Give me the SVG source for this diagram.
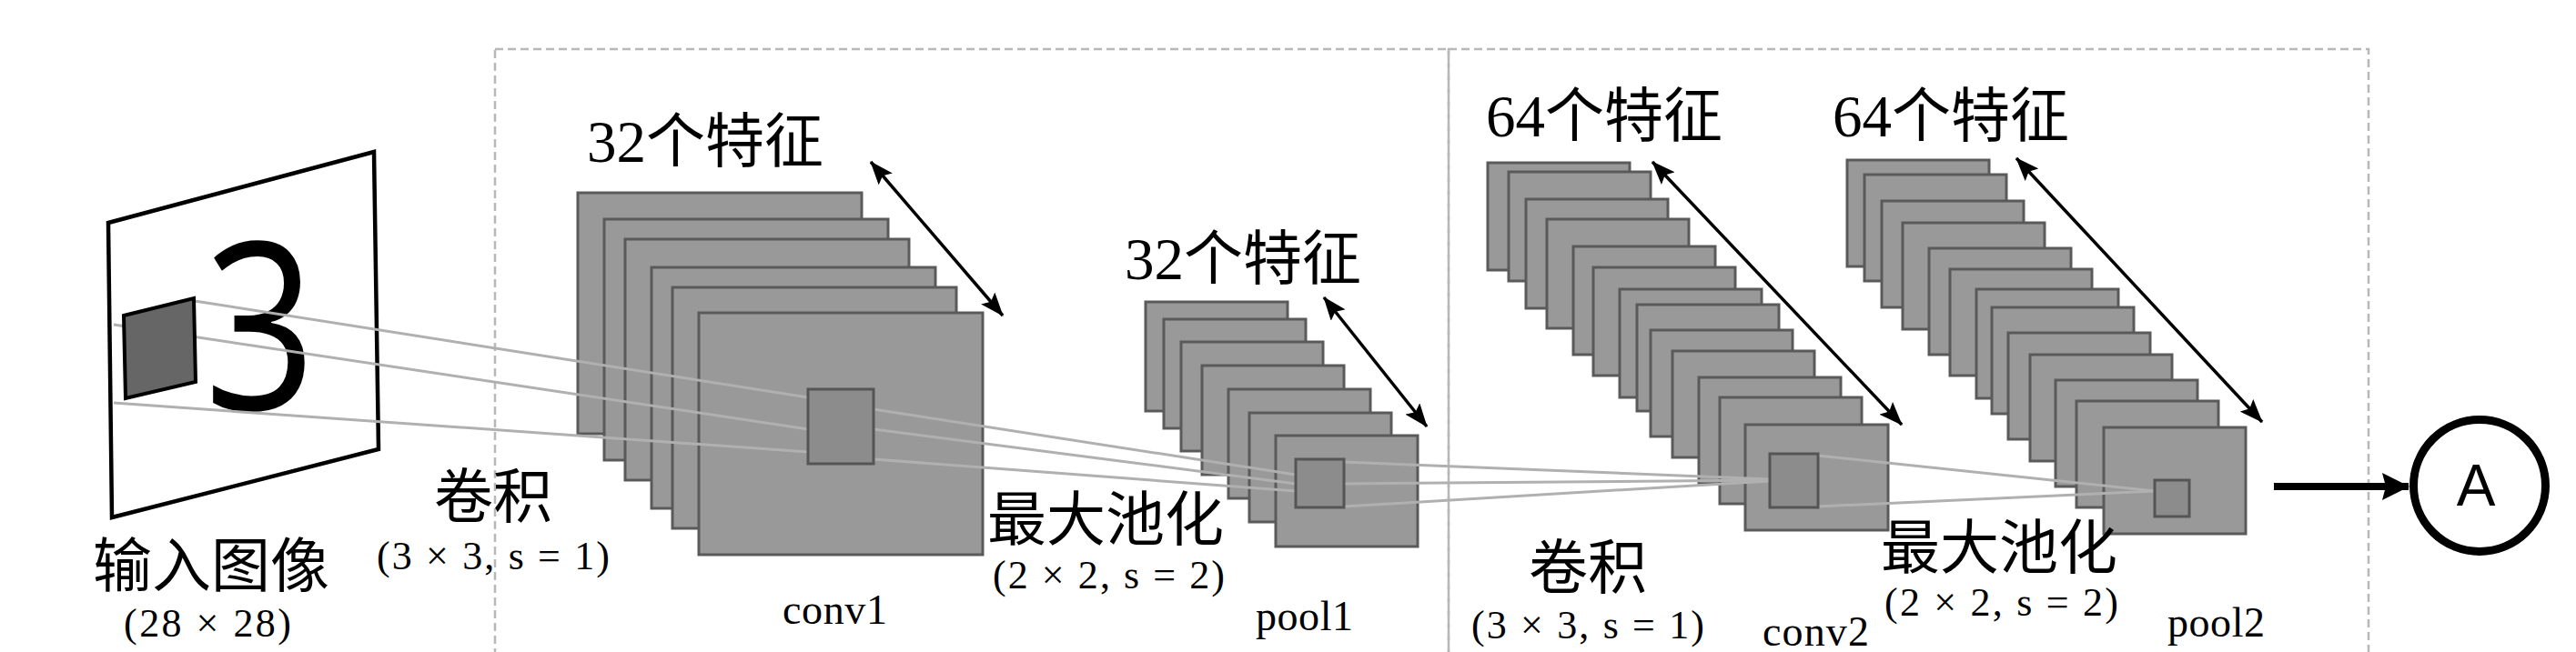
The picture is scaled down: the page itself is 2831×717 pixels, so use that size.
<svg xmlns="http://www.w3.org/2000/svg" width="2831" height="717" viewBox="0 0 2831 717">
<style>
.box{fill:none;stroke:#b8b8b8;stroke-width:2.5;stroke-dasharray:9 5}
.fm{fill:#999999;stroke:#5a5a5a;stroke-width:3}
.patch{fill:#8c8c8c;stroke:#555555;stroke-width:3}
.ln{stroke:#b0b0b0;stroke-width:3;fill:none}
.dbl{stroke:#000;stroke-width:3.5;fill:none;marker-start:url(#ah);marker-end:url(#ah)}
.cjk{font-family:"Liberation Serif","Noto Sans CJK SC",serif;font-size:65px;fill:#000}
.par{font-family:"Liberation Serif","Noto Sans CJK SC",serif;font-size:44px;fill:#000}
.nm{font-family:"Liberation Serif",serif;font-size:46px;fill:#000}
</style>
<defs>
<marker id="ah" viewBox="0 0 26 20" refX="25" refY="10" markerWidth="26" markerHeight="20" markerUnits="userSpaceOnUse" orient="auto-start-reverse">
<path d="M0,0 L26,10 L0,20 L5,10 z" fill="#000"/>
</marker>
<marker id="big" viewBox="0 0 30 30" refX="29" refY="15" markerWidth="30" markerHeight="30" markerUnits="userSpaceOnUse" orient="auto">
<path d="M0,0 L30,15 L0,30 L4,15 z" fill="#000"/>
</marker>
</defs>
<rect width="2831" height="717" fill="#fff"/>
<g id="stages">
<rect class="box" x="544" y="54" width="1048" height="700"/>
<rect class="box" x="1592" y="54" width="1011" height="700"/>
</g>
<g id="input">
<polygon points="119,245 411,167 416,494 123,569" fill="#fff" stroke="#000" stroke-width="4.5"/>
<text transform="translate(286,450) scale(0.84,1)" text-anchor="middle" font-family="Open Sans, DejaVu Sans, sans-serif" font-weight="400" font-size="256" fill="#000">3</text>
<text class="cjk" x="102" y="645">输入图像</text>
<text class="par" x="136" y="700" textLength="184" lengthAdjust="spacing">(28 × 28)</text>
</g>
<g id="conv1">
<rect class="fm" x="635" y="212" width="312" height="265"/>
<rect class="fm" x="664" y="241" width="312" height="265"/>
<rect class="fm" x="687" y="263" width="312" height="265"/>
<rect class="fm" x="716" y="294" width="312" height="265"/>
<rect class="fm" x="739" y="316" width="312" height="265"/>
<rect class="fm" x="768" y="344" width="312" height="266"/>
<line class="dbl" x1="957" y1="178" x2="1102" y2="347"/>
<text class="cjk" x="645" y="178">32个特征</text>
<text class="cjk" x="477" y="569">卷积</text>
<text class="par" x="414" y="626" textLength="256" lengthAdjust="spacing">(3 × 3, s = 1)</text>
<text class="nm" x="860" y="686" textLength="115" lengthAdjust="spacing">conv1</text>
</g>
<g id="pool1">
<rect class="fm" x="1259" y="332" width="156" height="120"/>
<rect class="fm" x="1279" y="351" width="156" height="120"/>
<rect class="fm" x="1298" y="376" width="156" height="120"/>
<rect class="fm" x="1321" y="402" width="156" height="120"/>
<rect class="fm" x="1350" y="428" width="156" height="120"/>
<rect class="fm" x="1373" y="454" width="156" height="120"/>
<rect class="fm" x="1402" y="479" width="156" height="122"/>
<line class="dbl" x1="1455" y1="327" x2="1568" y2="469"/>
<text class="cjk" x="1236" y="307">32个特征</text>
<text class="cjk" x="1085" y="594">最大池化</text>
<text class="par" x="1091" y="647" textLength="255" lengthAdjust="spacing">(2 × 2, s = 2)</text>
<text class="nm" x="1380" y="693" textLength="107" lengthAdjust="spacing">pool1</text>
</g>
<g id="conv2">
<rect class="fm" x="1635" y="179" width="156" height="118"/>
<rect class="fm" x="1658" y="189" width="156" height="120"/>
<rect class="fm" x="1677" y="219" width="156" height="120"/>
<rect class="fm" x="1700" y="241" width="156" height="120"/>
<rect class="fm" x="1729" y="271" width="156" height="119"/>
<rect class="fm" x="1751" y="294" width="156" height="119"/>
<rect class="fm" x="1780" y="318" width="156" height="119"/>
<rect class="fm" x="1799" y="335" width="156" height="117"/>
<rect class="fm" x="1814" y="363" width="156" height="117"/>
<rect class="fm" x="1838" y="386" width="156" height="117"/>
<rect class="fm" x="1867" y="415" width="156" height="117"/>
<rect class="fm" x="1890" y="437" width="156" height="117"/>
<rect class="fm" x="1918" y="467" width="157" height="116"/>
<line class="dbl" x1="1816" y1="178" x2="2090" y2="467"/>
<text class="cjk" x="1633" y="150">64个特征</text>
<text class="cjk" x="1680" y="647">卷积</text>
<text class="par" x="1617" y="702" textLength="256" lengthAdjust="spacing">(3 × 3, s = 1)</text>
<text class="nm" x="1937" y="710" textLength="117" lengthAdjust="spacing">conv2</text>
</g>
<g id="pool2">
<rect class="fm" x="2030" y="176" width="156" height="117"/>
<rect class="fm" x="2049" y="192" width="156" height="117"/>
<rect class="fm" x="2068" y="221" width="156" height="117"/>
<rect class="fm" x="2091" y="245" width="156" height="117"/>
<rect class="fm" x="2120" y="273" width="156" height="117"/>
<rect class="fm" x="2143" y="296" width="156" height="117"/>
<rect class="fm" x="2172" y="318" width="156" height="120"/>
<rect class="fm" x="2189" y="338" width="156" height="117"/>
<rect class="fm" x="2207" y="366" width="156" height="117"/>
<rect class="fm" x="2231" y="390" width="156" height="117"/>
<rect class="fm" x="2259" y="418" width="156" height="117"/>
<rect class="fm" x="2282" y="441" width="156" height="117"/>
<rect class="fm" x="2312" y="470" width="156" height="117"/>
<line class="dbl" x1="2216" y1="174" x2="2486" y2="464"/>
<text class="cjk" x="2014" y="150">64个特征</text>
<text class="cjk" x="2067" y="625">最大池化</text>
<text class="par" x="2071" y="677" textLength="257" lengthAdjust="spacing">(2 × 2, s = 2)</text>
<text class="nm" x="2382" y="700" textLength="107" lengthAdjust="spacing">pool2</text>
</g>
<g id="connectors">
<line class="ln" x1="214" y1="331" x2="888" y2="437"/>
<line class="ln" x1="125" y1="357" x2="888" y2="472"/>
<line class="ln" x1="125" y1="443" x2="888" y2="497"/>
<line class="ln" x1="960" y1="450" x2="1424" y2="522"/>
<line class="ln" x1="960" y1="472" x2="1424" y2="532"/>
<line class="ln" x1="960" y1="505" x2="1424" y2="540"/>
<line class="ln" x1="1477" y1="508" x2="1945" y2="527"/>
<line class="ln" x1="1477" y1="532" x2="1945" y2="528"/>
<line class="ln" x1="1477" y1="557" x2="1945" y2="529"/>
<line class="ln" x1="1998" y1="501" x2="2368" y2="540"/>
<line class="ln" x1="1998" y1="557" x2="2368" y2="540"/>
<line x1="2499" y1="535" x2="2647" y2="535" stroke="#000" stroke-width="8" marker-end="url(#big)"/>
</g>
<g id="receptive-fields">
<polygon points="136,347 213,328 215,420 138,438" fill="#666666" stroke="#000" stroke-width="4"/>
<rect class="patch" x="888" y="428" width="72" height="82"/>
<rect class="patch" x="1424" y="505" width="53" height="53"/>
<rect class="patch" x="1945" y="499" width="53" height="59"/>
<rect class="patch" x="2368" y="528" width="38" height="40"/>
</g>
<g id="out-A">
<circle cx="2725" cy="534" r="72.5" fill="#fff" stroke="#000" stroke-width="9"/>
<text x="2721" y="556" text-anchor="middle" font-family="Liberation Sans, Arial, sans-serif" font-size="64" fill="#000">A</text>
</g>
</svg>
